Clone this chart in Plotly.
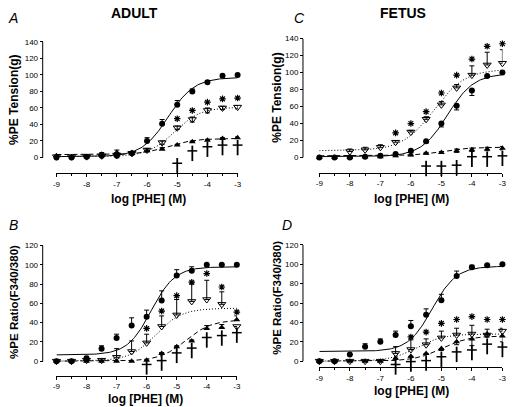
import numpy as np
import plotly.graph_objects as go

W, H = 514, 407

# ---------------- data ----------------
X = [-9, -8.5, -8, -7.5, -7, -6.5, -6, -5.5, -5, -4.5, -4, -3.5, -3]
x_tickvals = [-9, -8, -7, -6, -5, -4, -3]
x_ticktext = ["-9", "-8", "-7", "-6", "-5", "-4", "-3"]

# Panel A (adult tension)
A_ctrl = [0, 0, 1, 2, 2, 5, 20, 41, 64, 80, 91, 99, 100]
A_ctrl_up = [0, 0, 0, 1, 1, 2, 4, 5, 5, 3, 2, 0, 0]
A_open = [1, 1, 1, 2, 3, 5, 9, 18, 36, 46, 57, 60, 61]
A_open_err = [0, 0, 0, 1, 1, 1, 2, 2, 2, 3, 3, 2, 2]
A_tri = [2, 1, 1, 4, 6, 6, 8, 10, 15, 19, 21, 23, 24]
A_tri_err = [0, 0, 0, 2, 3, 1, 1, 2, 1, 1, 1, 1, 1]
A_star_x = [-5, -4.5, -4, -3.5, -3]
A_star_y = [47, 57, 67, 71, 72]
A_dag_x = [-5, -4.5, -4, -3.5, -3]
A_dag_y = [-10, 5, 10, 12, 12]
A_fit_ctrl = [1, 97, -5.3, 1.0]
A_fit_open = [1, 61, -5.1, 1.0]
A_fit_tri = [3.5, 23, -5.3, 1.0]

# Panel C (fetal tension)
C_ctrl = [0, 0, 0, 1, 2, 4, 8, 19, 40, 61, 79, 96, 100]
C_ctrl_dn = [0, 0, 0, 0, 0, 1, 2, 2, 4, 5, 6, 1, 1]
C_open = [None, None, 7, 9, 12, 18, 30, 45, 62, 82, 97, 109, 111]
C_open_up = [0, 0, 3, 3, 3, 2, 2, 3, 4, 4, 11, 15, 16]
C_tri = [0, 0, 0, 1, 1, 2, 3, 5, 6, 8, 9, 10, 11]
C_tri_err = [0, 0, 0, 0, 0, 1, 1, 1, 1, 2, 2, 2, 2]
C_star_x = [-6.5, -6, -5.5, -5, -4.5, -4, -3.5, -3]
C_star_y = [29, 40, 54, 76, 97, 116, 131, 134]
C_dag_x = [-5.5, -5, -4.5, -4, -3.5, -3]
C_dag_y = [-13, -13, -12, -2, -2, -1]
C_fit_ctrl = [1, 99, -4.8, 1.0]
C_fit_open = [8, 104, -5.25, 0.85]
C_fit_tri = [2, 12, -5.0, 1.0]

# Panel B (adult Ca ratio)
B_ctrl = [0, 0, 3, 13, 24, 37, 46, 63, 89, 94, 100, 100, 100]
B_ctrl_up = [0, 0, 2, 3, 4, 8, 7, 10, 6, 4, 0, 0, 0]
B_open = [0, 0, 1, 1, 4, 10, 19, 36, 48, 62, 64, 59, 36]
B_open_up = [0, 0, 0, 0, 9, 11, 9, 11, 16, 18, 20, 13, 0]
B_tri = [0, 0, 0, 0, 0, 0, 1, 8, 15, 21, 34, 35, 43]
B_tri_up = [0, 0, 0, 0, 0, 0, 0, 1, 1, 1, 3, 3, 4]
B_star_x = [-6, -5.5, -5, -4.5, -4, -3.5, -3]
B_star_y = [34, 52, 68, 82, 91, 77, 51]
B_dag_x = [-6, -5.5, -5, -4.5, -4, -3.5, -3]
B_dag_y = [-6, -2, 6, 11, 22, 24, 27]
B_fit_ctrl = [6.5, 98, -5.85, 1.1]
B_fit_open = [0, 55, -5.7, 1.0]
B_fit_tri = [0, 43, -4.7, 1.0]

# Panel D (fetal Ca ratio)
D_ctrl = [0, 0, 7, 15, 20, 27, 36, 48, 63, 88, 97, 99, 100]
D_ctrl_up = [0, 0, 0, 3, 3, 4, 6, 6, 6, 5, 2, 0, 0]
D_open = [0, 0, 0, 0, 0, 8, 12, 17, 24, 27, 28, 27, 31]
D_open_up = [0, 0, 0, 0, 0, 7, 10, 6, 7, 7, 9, 6, 3]
D_tri = [0, 0, 0, 0, 0, 3, 5, 8, 13, 20, 23, 28, 26]
D_tri_dn = [0, 0, 0, 0, 0, 1, 1, 1, 2, 3, 7, 3, 6]
D_star_x = [-6, -5.5, -5, -4.5, -4, -3.5, -3]
D_star_y = [25, 30, 39, 43, 46, 43, 43]
D_dag_x = [-6.5, -6, -5.5, -5, -4.5, -4, -3.5, -3]
D_dag_y = [-6, -3, -2, 2, 7, 9, 15, 12]
D_fit_ctrl = [10, 98, -5.3, 1.1]
D_fit_open = [0, 28, -5.8, 1.0]
D_fit_tri = [0, 26, -5.0, 1.0]

y_ticks_tension = [0, 20, 40, 60, 80, 100, 120, 140]
y_ticks_ratio = [0, 20, 40, 60, 80, 100, 120]

FONT = "Liberation Sans, Arial, sans-serif"
YMIN = -25  # axis range extends below 0 so that daggers under 0 are drawn

# panel geometry in pixels: (yaxis_x, x_left, x_right, y0_px, ytop_px, xaxis_y, ymax)
geom = {
    1: (39.3, 53.3, 237.3, 155.0, 38.3, 170.7, 140),
    2: (303.7, 320.3, 506.3, 155.0, 35.0, 170.3, 140),
    3: (39.3, 53.3, 236.5, 360.7, 244.0, 375.5, 120),
    4: (303.7, 320.3, 506.3, 360.7, 243.3, 366.7, 120),
}


def px_x(p):
    return p / W


def px_y(p):
    return 1 - p / H


def hill(params, x):
    b, t, ec, h = params
    return b + (t - b) / (1 + 10 ** ((ec - x) * h))


xfit = np.linspace(-9, -3, 151)

fig = go.Figure()


def add_panel(k, ctrl, ctrl_err, opn, opn_err, tri, tri_err,
              sx, sy, dx, dy, fctrl, fopen, ftri):
    xa = "x" if k == 1 else f"x{k}"
    ya = "y" if k == 1 else f"y{k}"
    _, _, _, y0, yt, _, ymax = geom[k]
    ppu = (y0 - yt) / ymax  # pixels per data unit
    fig.add_trace(go.Scatter(x=xfit, y=hill(fopen, xfit), mode="lines",
                             line=dict(color="black", width=1, dash="1px,2px"),
                             xaxis=xa, yaxis=ya, hoverinfo="skip"))
    fig.add_trace(go.Scatter(x=xfit, y=hill(ftri, xfit), mode="lines",
                             line=dict(color="black", width=1, dash="5px,3px"),
                             xaxis=xa, yaxis=ya, hoverinfo="skip"))
    fig.add_trace(go.Scatter(x=xfit, y=hill(fctrl, xfit), mode="lines",
                             line=dict(color="black", width=1),
                             xaxis=xa, yaxis=ya, hoverinfo="skip"))

    def eb(err):
        up, dn = err
        return dict(type="data", array=up, arrayminus=dn, symmetric=False,
                    color="black", thickness=1, width=2.5)

    fig.add_trace(go.Scatter(x=X, y=tri, mode="markers", cliponaxis=False,
                             marker=dict(symbol="triangle-up", size=6, color="black"),
                             error_y=eb(tri_err), xaxis=xa, yaxis=ya))
    fig.add_trace(go.Scatter(x=X, y=opn, mode="markers", cliponaxis=False,
                             marker=dict(symbol="triangle-down-open", size=7, color="black",
                                         line=dict(width=1, color="black")),
                             error_y=eb(opn_err), xaxis=xa, yaxis=ya))
    fig.add_trace(go.Scatter(x=X, y=ctrl, mode="markers", cliponaxis=False,
                             marker=dict(symbol="circle", size=6, color="black"),
                             error_y=eb(ctrl_err), xaxis=xa, yaxis=ya))
    # significance stars
    fig.add_trace(go.Scatter(x=sx, y=sy, mode="markers", cliponaxis=False,
                             marker=dict(symbol="asterisk-open", size=5.5, color="black",
                                         line=dict(width=1.2, color="black")),
                             xaxis=xa, yaxis=ya))
    # daggers: a vertical stem plus a short crossbar in its upper part
    fig.add_trace(go.Scatter(x=dx, y=dy, mode="markers", cliponaxis=False,
                             marker=dict(symbol="line-ns-open", size=11, color="black",
                                         line=dict(width=1.8, color="black")),
                             xaxis=xa, yaxis=ya))
    fig.add_trace(go.Scatter(x=dx, y=[v + 2.5 / ppu for v in dy], mode="markers",
                             cliponaxis=False,
                             marker=dict(symbol="line-ew-open", size=7, color="black",
                                         line=dict(width=1.5, color="black")),
                             xaxis=xa, yaxis=ya))


z = [0] * len(X)
add_panel(1, A_ctrl, (A_ctrl_up, z), A_open, (A_open_err, A_open_err),
          A_tri, (A_tri_err, z), A_star_x, A_star_y, A_dag_x, A_dag_y,
          A_fit_ctrl, A_fit_open, A_fit_tri)
add_panel(2, C_ctrl, (z, C_ctrl_dn), C_open, (C_open_up, z),
          C_tri, (C_tri_err, C_tri_err), C_star_x, C_star_y, C_dag_x, C_dag_y,
          C_fit_ctrl, C_fit_open, C_fit_tri)
add_panel(3, B_ctrl, (B_ctrl_up, z), B_open, (B_open_up, z),
          B_tri, (B_tri_up, z), B_star_x, B_star_y, B_dag_x, B_dag_y,
          B_fit_ctrl, B_fit_open, B_fit_tri)
add_panel(4, D_ctrl, (D_ctrl_up, z), D_open, (D_open_up, z),
          D_tri, (z, D_tri_dn), D_star_x, D_star_y, D_dag_x, D_dag_y,
          D_fit_ctrl, D_fit_open, D_fit_tri)

layout = dict(
    width=W, height=H, margin=dict(l=0, r=0, t=0, b=0),
    paper_bgcolor="white", plot_bgcolor="white", showlegend=False,
    colorway=["black"], hovermode=False,
    font=dict(family=FONT, size=8, color="black"),
)
shapes = []
for k, (yx, xl, xr, y0, yt, xay, ymax) in geom.items():
    xn = "xaxis" if k == 1 else f"xaxis{k}"
    yn = "yaxis" if k == 1 else f"yaxis{k}"
    yref = "y" if k == 1 else f"y{k}"
    ppu = (y0 - yt) / ymax
    ybottom_px = y0 - YMIN * ppu
    layout[xn] = dict(
        domain=[px_x(xl), px_x(xr)], range=[-9, -3], anchor="free",
        position=px_y(xay), showline=True, linecolor="black", linewidth=1,
        showgrid=False, zeroline=False, ticks="outside", ticklen=3,
        tickcolor="black", tickvals=x_tickvals, ticktext=x_ticktext,
        tickfont=dict(size=8),
        minor=dict(dtick=0.5, tick0=-9, ticks="outside", ticklen=2,
                   tickcolor="black", showgrid=False),
    )
    layout[yn] = dict(
        domain=[px_y(ybottom_px), px_y(yt)], range=[YMIN, ymax], anchor="free",
        position=px_x(yx), showline=False,
        showgrid=False, zeroline=False, ticks="outside", ticklen=3,
        tickcolor="black", tickfont=dict(size=8),
        tickvals=y_ticks_tension if ymax == 140 else y_ticks_ratio,
    )
    shapes.append(dict(type="line", xref="paper", yref=yref,
                       x0=px_x(yx), x1=px_x(yx), y0=0, y1=ymax,
                       line=dict(color="black", width=1)))
layout["shapes"] = shapes

annots = []


def ann(text, x, y, size, bold=False, italic=False, angle=0):
    t = text
    if bold:
        t = f"<b>{t}</b>"
    if italic:
        t = f"<i>{t}</i>"
    annots.append(dict(text=t, x=px_x(x), y=px_y(y), xref="paper", yref="paper",
                       showarrow=False, xanchor="center", yanchor="middle",
                       textangle=angle, font=dict(family=FONT, size=size, color="black")))


ann("ADULT", 133, 9, 14, bold=True)
ann("FETUS", 405, 9, 14, bold=True)
ann("A", 9, 14, 14, italic=True)
ann("C", 300, 14, 14, italic=True)
ann("B", 10, 223, 14, italic=True)
ann("D", 287, 223, 14, italic=True)
ann("log [PHE] (M)", 147, 197, 12, bold=True)
ann("log [PHE] (M)", 414, 197, 12, bold=True)
ann("log [PHE] (M)", 144, 399, 12, bold=True)
ann("log [PHE] (M)", 414, 391, 12, bold=True)
ann("%PE Tension(g)", 10, 97, 12, bold=True, angle=-90)
ann("%PE Tension(g)", 277, 95, 12, bold=True, angle=-90)
ann("%PE Ratio(F340/380)", 10, 301, 11.5, bold=True, angle=-90)
ann("%PE Ratio(F340/380)", 277, 297, 11.5, bold=True, angle=-90)
layout["annotations"] = annots

fig.update_layout(**layout)
fig.write_html(
    "out.html",
    config={"displayModeBar": False, "staticPlot": True},
    post_script="document.body.style.margin='0px';document.body.style.overflow='hidden';",
)
